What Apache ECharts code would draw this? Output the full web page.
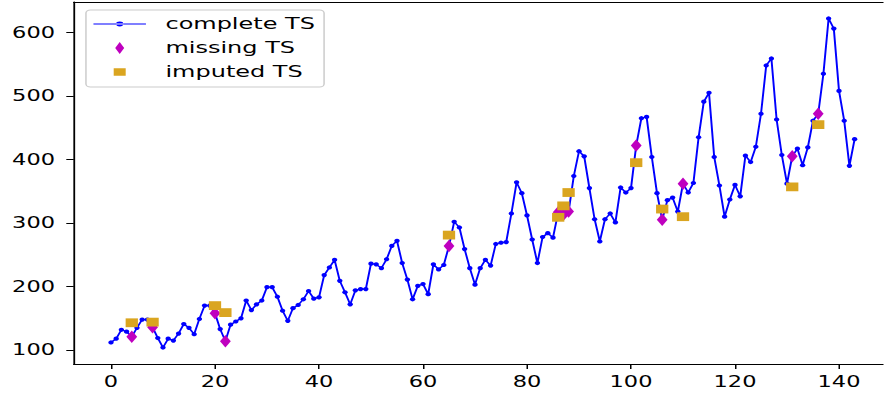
<!DOCTYPE html>
<html>
<head>
<meta charset="utf-8">
<script src="https://cdn.jsdelivr.net/npm/echarts@6/dist/echarts.min.js"></script>
<style>
  html, body { margin: 0; padding: 0; background: #ffffff; overflow: hidden; }
  #wrap { width: 884px; height: 396px; overflow: hidden; position: relative; }
  /* the figure is drawn narrow and widened 1.5x, like a stretched export */
  #chart { width: 589.33px; height: 396px; transform: scaleX(1.5); transform-origin: 0 0; }
</style>
</head>
<body>
<div id="wrap"><div id="chart"></div></div>
<script>
// Monthly airline passengers (thousands), 144 months
const passengers = [
  112, 118, 132, 129, 121, 135, 148, 148, 136, 119, 104, 118,
  115, 126, 141, 135, 125, 149, 170, 170, 158, 133, 114, 140,
  145, 150, 178, 163, 172, 178, 199, 199, 184, 162, 146, 166,
  171, 180, 193, 181, 183, 218, 230, 242, 209, 191, 172, 194,
  196, 196, 236, 235, 229, 243, 264, 272, 237, 211, 180, 201,
  204, 188, 235, 227, 234, 264, 302, 293, 259, 229, 203, 229,
  242, 233, 267, 269, 270, 315, 364, 347, 312, 274, 237, 278,
  284, 277, 317, 313, 318, 374, 413, 405, 355, 306, 271, 306,
  315, 301, 356, 348, 355, 422, 465, 467, 404, 347, 305, 336,
  340, 318, 362, 348, 363, 435, 491, 505, 404, 359, 310, 337,
  360, 342, 406, 396, 420, 472, 548, 559, 463, 407, 362, 405,
  417, 391, 419, 461, 472, 535, 622, 606, 508, 461, 390, 432
];

// Positions that were removed from the series
const missingIndex = [4, 8, 20, 22, 65, 86, 87, 88, 101, 106, 110, 131, 136];
// Values filled in by the imputation, one per missing position
const imputedValues = [143, 144, 170, 159, 281, 309, 327, 348, 395, 322, 310, 357, 455];

const xTicks = [0, 20, 40, 60, 80, 100, 120, 140];
const yTicks = [100, 200, 300, 400, 500, 600];

const completeData = passengers.map((v, i) => [i, v]);
const missingData = missingIndex.map(i => [i, passengers[i]]);
const imputedData = missingIndex.map((i, k) => [i, imputedValues[k]]);

const FONT = 'DejaVu Sans';
// tiny corner specks pin every legend icon path to the full 35x12 item box
const BOX = ' M0,0L0.01,0L0,0.01Z M35,12L34.99,12L35,11.99Z';

const chart = echarts.init(document.getElementById('chart'), null, {
  renderer: 'svg', width: 589.33, height: 396
});

const spine = { show: true, onZero: false, lineStyle: { color: '#000000', width: 1.2 } };

chart.setOption({
  animation: false,
  backgroundColor: '#ffffff',
  grid: { left: 49.2, right: 0, top: 2, bottom: 32, containLabel: false, outerBoundsMode: 'none' },
  xAxis: [{
    type: 'value', min: -7.15, max: 148.65, position: 'bottom', gridIndex: 0,
    axisLine: spine,
    axisTick: { show: true, inside: false, length: 5, customValues: xTicks, lineStyle: { color: '#000000', width: 1 } },
    axisLabel: { show: true, customValues: xTicks, margin: 10, fontFamily: FONT, fontSize: 15, color: '#000000' },
    splitLine: { show: false }
  }, {
    type: 'value', min: -7.15, max: 148.65, position: 'top', gridIndex: 0,
    axisLine: spine,
    axisTick: { show: false }, axisLabel: { show: false }, splitLine: { show: false }
  }],
  yAxis: {
    type: 'value', min: 78.1, max: 647.9, position: 'left',
    axisLine: spine,
    axisTick: { show: true, inside: false, length: 5, customValues: yTicks, lineStyle: { color: '#000000', width: 1 } },
    axisLabel: { show: true, customValues: yTicks, margin: 12.5, fontFamily: FONT, fontSize: 15, color: '#000000' },
    splitLine: { show: false }
  },
  legend: {
    orient: 'vertical', left: 57.3, top: 10,
    padding: [6, 6, 7, 5], itemWidth: 35, itemHeight: 12, itemGap: 8,
    backgroundColor: 'rgba(255,255,255,0.8)', borderColor: '#cccccc', borderWidth: 1, borderRadius: 3,
    symbolKeepAspect: true,
    textStyle: { fontFamily: FONT, fontSize: 16, color: '#000000', lineHeight: 16, padding: [0, 0, 0, 8] },
    data: [
      { name: 'complete TS', icon: 'path://M0,5.4L35,5.4L35,6.6L0,6.6Z M15.1,6A2.4,2.4 0 1 0 19.9,6A2.4,2.4 0 1 0 15.1,6Z' + BOX },
      { name: 'missing TS', icon: 'path://M17.5,0L20.5,6L17.5,12L14.5,6Z' + BOX },
      { name: 'imputed TS', icon: 'path://M13.5,2.2L21.5,2.2L21.5,9.8L13.5,9.8Z' + BOX }
    ]
  },
  series: [{
    name: 'complete TS', type: 'line', data: completeData, z: 2,
    symbol: 'circle', symbolSize: [3.6, 4.2], showAllSymbol: true,
    itemStyle: { color: '#0000ff', opacity: 1 },
    lineStyle: { color: '#0000ff', width: 1.3 }
  }, {
    name: 'missing TS', type: 'scatter', data: missingData, z: 3,
    symbol: 'diamond', symbolSize: [7.2, 12.5],
    itemStyle: { color: '#bf00bf', opacity: 1 }
  }, {
    name: 'imputed TS', type: 'scatter', data: imputedData, z: 4,
    symbol: 'rect', symbolSize: [8.2, 8.8],
    itemStyle: { color: '#daa520', opacity: 1 }
  }]
});
</script>
</body>
</html>
